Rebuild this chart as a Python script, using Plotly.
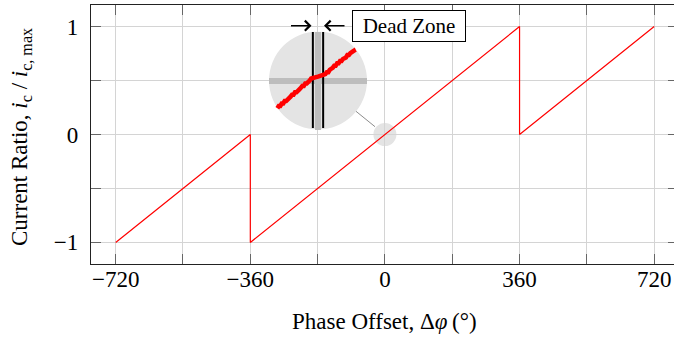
import plotly.graph_objects as go

# ---------------- data ----------------
phase = [-720, -360, -360, 360, 360, 720]          # degrees
ratio = [-1.0, 0.0, -1.0, 1.0, 0.0, 1.0]           # i_c / i_c,max

x_tickvals = [-720, -540, -360, -180, 0, 180, 360, 540, 720]
x_ticktext = ["\u2212720", "", "\u2212360", "", "0", "", "360", "", "720"]
y_tickvals = [-1, -0.5, 0, 0.5, 1]
y_ticktext = ["\u22121", "", "0", "", "1"]

# magnified (spy) view around the origin, in inset units
zoom_x = [-0.83, -0.80, -0.77, -0.74, -0.71, -0.68, -0.65, -0.62, -0.59, -0.56,
          -0.53, -0.50, -0.47, -0.44, -0.41, -0.38, -0.35, -0.32, -0.29, -0.26,
          -0.23, -0.20, -0.17, -0.14, -0.12, -0.08, -0.04, 0.00, 0.04, 0.08,
          0.12, 0.15, 0.18, 0.21, 0.24, 0.27, 0.30, 0.33, 0.36, 0.39,
          0.42, 0.45, 0.48, 0.51, 0.54, 0.57, 0.60, 0.63, 0.66, 0.69,
          0.72, 0.75, 0.77]
zoom_y = [-0.565, -0.52, -0.52, -0.47, -0.47, -0.42, -0.42, -0.37, -0.36, -0.33,
          -0.29, -0.29, -0.24, -0.24, -0.19, -0.18, -0.15, -0.11, -0.11, -0.06,
          -0.06, -0.01, 0.00, 0.04, 0.05, 0.06, 0.07, 0.08, 0.09, 0.10,
          0.115, 0.13, 0.17, 0.17, 0.22, 0.23, 0.26, 0.30, 0.30, 0.35,
          0.35, 0.40, 0.40, 0.44, 0.46, 0.47, 0.52, 0.52, 0.56, 0.57,
          0.60, 0.62, 0.63]
dead_zone = [-0.105, 0.105]
dead_zone_label = "Dead Zone"

# ---------------- layout helpers ----------------
W, H = 674, 339
ML, MR, MT, MB = 91, 0, 5, 75
PW, PH = W - ML - MR, H - MT - MB


def px2x(px):
    return (px - ML) / PW


def py2y(py):
    return (H - MB - py) / PH


FONT = "Liberation Serif, Times New Roman, serif"
GRID = "#d4d4d4"
CIRCLE = "#e4e4e4"
FS = 23

fig = go.Figure()

# main sawtooth
fig.add_trace(go.Scatter(x=phase, y=ratio, mode="lines",
                         line=dict(color="#ff0000", width=1.2),
                         xaxis="x", yaxis="y", showlegend=False, hoverinfo="skip"))
# dummy for right-side tick axis
fig.add_trace(go.Scatter(x=[], y=[], xaxis="x", yaxis="y3", showlegend=False))

# inset: dead-zone boundaries
for xv in dead_zone:
    fig.add_trace(go.Scatter(x=[xv, xv], y=[-0.97, 0.99], mode="lines",
                             line=dict(color="black", width=2),
                             xaxis="x2", yaxis="y2", showlegend=False, hoverinfo="skip"))
# inset: magnified noisy signal
fig.add_trace(go.Scatter(x=zoom_x, y=zoom_y, mode="lines",
                         line=dict(color="#ff0000", width=4.5),
                         xaxis="x2", yaxis="y2", showlegend=False, hoverinfo="skip"))

ax_common = dict(showline=True, linecolor="#222222", linewidth=1.2,
                 showgrid=True, gridcolor=GRID, gridwidth=1.2,
                 zeroline=False, ticks="inside", ticklen=10, tickcolor="#666666",
                 tickwidth=1, tickfont=dict(family=FONT, size=FS, color="black"))

fig.update_layout(
    width=W, height=H,
    margin=dict(l=ML, r=MR, t=MT, b=MB),
    paper_bgcolor="white", plot_bgcolor="rgba(0,0,0,0)",
    font=dict(family=FONT, size=FS, color="black"),
    xaxis=dict(range=[-786, 773], tickmode="array", tickvals=x_tickvals,
               ticktext=x_ticktext, mirror="ticks", ticklabelstandoff=-6,
               domain=[0, 1], anchor="y", **ax_common),
    yaxis=dict(range=[-1.2, 1.2], tickmode="array", tickvals=y_tickvals,
               ticktext=y_ticktext, mirror=False, ticklabelstandoff=7,
               domain=[0, 1], anchor="x", **ax_common),
    yaxis3=dict(range=[-1.2, 1.2], overlaying="y", side="right", anchor="x",
                tickmode="array", tickvals=y_tickvals, ticks="inside", ticklen=6,
                tickcolor="#666666", showticklabels=False, showgrid=False,
                showline=False, zeroline=False),
    xaxis2=dict(domain=[px2x(269), px2x(367)], anchor="y2", range=[-1, 1],
                showgrid=False, showticklabels=False, ticks="", showline=False,
                zeroline=True, zerolinecolor="#bdbdbd", zerolinewidth=5.5),
    yaxis2=dict(domain=[py2y(129.5), py2y(31.5)], anchor="x2", range=[-1, 1],
                showgrid=False, showticklabels=False, ticks="", showline=False,
                zeroline=True, zerolinecolor="#bdbdbd", zerolinewidth=5.5),
    showlegend=False,
)

shapes = [
    # small spy circle at origin
    dict(type="circle", xref="x", yref="y", xsizemode="pixel", ysizemode="pixel",
         xanchor=0, yanchor=0, x0=-11.5, x1=11.5, y0=-11.5, y1=11.5,
         fillcolor=CIRCLE, line=dict(width=0), layer="below"),
    # big magnified circle
    dict(type="circle", xref="x2", yref="y2", x0=-1, x1=1, y0=-1, y1=1,
         fillcolor=CIRCLE, line=dict(width=0), layer="below"),
    # connector
    dict(type="line", xref="paper", yref="paper",
         x0=px2x(356), y0=py2y(111.3), x1=px2x(375), y1=py2y(126.7),
         line=dict(color="#8c8c8c", width=1), layer="above"),
]
fig.update_layout(shapes=shapes)

annotations = [
    dict(text="Phase Offset, \u0394<i>\u03c6</i>\u2009(\u00b0)", xref="paper", yref="paper",
         x=px2x(384), y=py2y(321), xanchor="center", yanchor="middle",
         showarrow=False, font=dict(family=FONT, size=FS)),
    dict(text="Current Ratio, <i>i</i><sub>c</sub> / <i>i</i><sub>c, max</sub>",
         xref="paper", yref="paper", x=px2x(21), y=py2y(137),
         xanchor="center", yanchor="middle", textangle=-90,
         showarrow=False, font=dict(family=FONT, size=FS)),
    dict(text=dead_zone_label, xref="paper", yref="paper",
         x=px2x(409), y=py2y(26.2), xanchor="center", yanchor="middle",
         showarrow=False, bgcolor="white", bordercolor="black", borderwidth=1,
         borderpad=3, width=106, height=24, font=dict(family=FONT, size=21)),
    dict(text="", xref="paper", yref="paper", x=px2x(311.5), y=py2y(25.7),
         ax=-22, ay=0, axref="pixel", ayref="pixel", showarrow=True,
         arrowhead=4, arrowsize=1.4, arrowwidth=1.4, arrowcolor="black", standoff=0),
    dict(text="", xref="paper", yref="paper", x=px2x(324), y=py2y(25.7),
         ax=22, ay=0, axref="pixel", ayref="pixel", showarrow=True,
         arrowhead=4, arrowsize=1.4, arrowwidth=1.4, arrowcolor="black", standoff=0),
]
fig.update_layout(annotations=annotations)

fig.write_html("out.html", config={"displayModeBar": False},
               post_script="document.body.style.margin='0px';"
                           "document.body.style.overflow='hidden';")
